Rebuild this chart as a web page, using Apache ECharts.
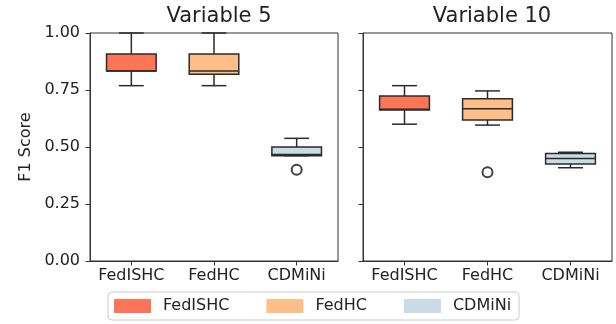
<!DOCTYPE html>
<html>
<head>
<meta charset="utf-8">
<script src="https://cdn.jsdelivr.net/npm/echarts@6/dist/echarts.min.js"></script>
<style>
html,body{margin:0;padding:0;background:#fff;}
#chart{width:616px;height:324px;}
</style>
</head>
<body>
<div id="chart"></div>
<script>
// ---- data ----
const categories = ['FedISHC', 'FedHC', 'CDMiNi'];
const panelTitles = ['Variable 5', 'Variable 10'];
const yTicks = [0, 0.25, 0.5, 0.75, 1.0];
// stats: [lower whisker, Q1, median, Q3, upper whisker]
const v5_FedISHC = [0.769, 0.833, 0.833, 0.908, 1.000];
const v5_FedHC   = [0.769, 0.819, 0.833, 0.908, 1.000];
const v5_CDMiNi  = [0.462, 0.462, 0.467, 0.500, 0.538];
const v10_FedISHC = [0.600, 0.662, 0.666, 0.724, 0.769];
const v10_FedHC   = [0.596, 0.618, 0.668, 0.712, 0.746];
const v10_CDMiNi  = [0.409, 0.425, 0.450, 0.472, 0.477];
const v5_outliers  = [['CDMiNi', 0.400]];
const v10_outliers = [['FedHC', 0.389]];
const colors = {FedISHC: '#FC7557', FedHC: '#FDBF87', CDMiNi: '#C9DBE6'};

const panelStats = [
  {FedISHC: v5_FedISHC, FedHC: v5_FedHC, CDMiNi: v5_CDMiNi},
  {FedISHC: v10_FedISHC, FedHC: v10_FedHC, CDMiNi: v10_CDMiNi}
];
const panelOutliers = [v5_outliers, v10_outliers];

const edge = '#2b2b2b';
function renderBox(params, api) {
  const cat = api.value(0);
  const lo = api.coord([cat, api.value(1)]);
  const q1 = api.coord([cat, api.value(2)]);
  const md = api.coord([cat, api.value(3)]);
  const q3 = api.coord([cat, api.value(4)]);
  const hi = api.coord([cat, api.value(5)]);
  const bw = api.size([1, 0])[0] * 0.6;
  const cw = bw * 0.25;
  const x = lo[0];
  const ls = {stroke: edge, lineWidth: 1.5};
  return {
    type: 'group',
    children: [
      {type: 'line', shape: {x1: x, y1: q1[1], x2: x, y2: lo[1]}, style: ls},
      {type: 'line', shape: {x1: x, y1: q3[1], x2: x, y2: hi[1]}, style: ls},
      {type: 'line', shape: {x1: x - cw, y1: lo[1], x2: x + cw, y2: lo[1]}, style: ls},
      {type: 'line', shape: {x1: x - cw, y1: hi[1], x2: x + cw, y2: hi[1]}, style: ls},
      {type: 'rect', shape: {x: x - bw / 2, y: q3[1], width: bw, height: q1[1] - q3[1]},
        style: {fill: api.visual('color'), stroke: edge, lineWidth: 1.5}},
      {type: 'line', shape: {x1: x - bw / 2, y1: md[1], x2: x + bw / 2, y2: md[1]}, style: ls}
    ]
  };
}

const font = 'DejaVu Sans';
const grids = [
  {left: 90, top: 33, width: 248, height: 228, show: true, borderColor: '#333', borderWidth: 1},
  {left: 363, top: 33, width: 249, height: 228, show: true, borderColor: '#333', borderWidth: 1}
];
const xAxes = [0, 1].map(i => ({
  type: 'category', gridIndex: i, data: categories, boundaryGap: true,
  axisLine: {show: true, lineStyle: {color: '#333', width: 1}},
  axisTick: {show: true, alignWithLabel: true, length: 4.5, lineStyle: {color: '#333'}},
  axisLabel: {color: '#222', fontSize: 16, fontFamily: font, margin: 7, interval: 0, hideOverlap: false}
}));
const yAxes = [0, 1].map(i => ({
  type: 'value', gridIndex: i, min: 0, max: 1, interval: 0.25,
  splitLine: {show: false},
  axisLine: {show: true, lineStyle: {color: '#333', width: 1}},
  axisTick: {show: true, length: 4.5, lineStyle: {color: '#333'}},
  axisLabel: {show: i === 0, color: '#222', fontSize: 16, fontFamily: font, margin: 10,
    formatter: v => yTicks.indexOf(v) >= 0 ? v.toFixed(2) : ''},
  name: i === 0 ? 'F1 Score' : '', nameLocation: 'middle', nameGap: 56, nameRotate: 90,
  nameTextStyle: {color: '#222', fontSize: 16, fontFamily: font}
}));

const series = [];
[0, 1].forEach(p => {
  categories.forEach(c => {
    series.push({
      type: 'custom', name: c, xAxisIndex: p, yAxisIndex: p,
      itemStyle: {color: colors[c]},
      encode: {x: 0, y: [1, 2, 3, 4, 5]},
      renderItem: renderBox,
      data: [[c].concat(panelStats[p][c])],
      z: 2
    });
  });
  series.push({
    type: 'scatter', name: 'outliers' + p, xAxisIndex: p, yAxisIndex: p,
    symbol: 'emptyCircle', symbolSize: 10,
    itemStyle: {color: '#111', borderWidth: 1.5},
    data: panelOutliers[p], z: 3
  });
});

const chart = echarts.init(document.getElementById('chart'), null, {renderer: 'canvas'});
chart.setOption({
  animation: false,
  backgroundColor: '#fff',
  title: [
    {text: panelTitles[0], left: 214, top: 1, textAlign: 'center',
      textStyle: {fontSize: 21, fontWeight: 'normal', color: '#222', fontFamily: font}},
    {text: panelTitles[1], left: 487, top: 1, textAlign: 'center',
      textStyle: {fontSize: 21, fontWeight: 'normal', color: '#222', fontFamily: font}}
  ],
  grid: grids,
  xAxis: xAxes,
  yAxis: yAxes,
  legend: {
    data: categories, left: 108, top: 292, orient: 'horizontal',
    icon: 'rect', itemWidth: 37, itemHeight: 14, itemGap: 37,
    itemStyle: {borderWidth: 0},
    textStyle: {fontSize: 16, color: '#222', fontFamily: font, padding: [0, 0, 0, 7]},
    padding: [6, 8, 6, 6],
    borderColor: '#ccc', borderWidth: 1, borderRadius: 4, backgroundColor: '#fff'
  },
  series: series
});
</script>
</body>
</html>
